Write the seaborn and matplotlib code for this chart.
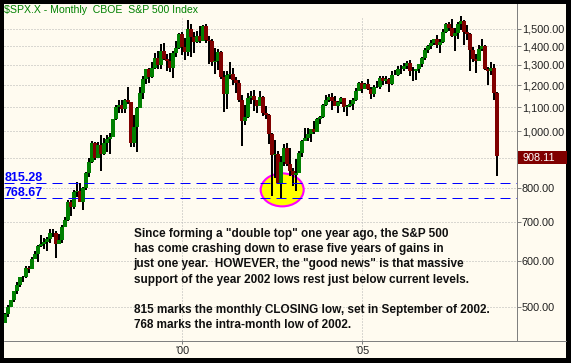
import numpy as np
import pandas as pd
import matplotlib
matplotlib.use('Agg')
import matplotlib.pyplot as plt
import matplotlib.transforms as mtransforms
from matplotlib.patches import Ellipse, Rectangle
from matplotlib.lines import Line2D
from matplotlib.ticker import FuncFormatter, NullLocator
import seaborn as sns

# monthly S&P 500 candles, Jan 1995 .. Oct 2008 (rounded)
opens = [459, 470, 487, 501, 515, 533, 545, 562, 562, 584, 582, 605,
         616, 636, 640, 646, 654, 669, 671, 640, 652, 687, 705, 757,
         741, 786, 791, 757, 801, 848, 885, 954, 899, 947, 915, 955,
         970, 980, 1049, 1102, 1112, 1091, 1134, 1121, 957, 1017, 1099, 1164,
         1229, 1280, 1238, 1286, 1335, 1302, 1373, 1329, 1320, 1283, 1363, 1389,
         1469, 1394, 1366, 1499, 1452, 1421, 1455, 1431, 1518, 1437, 1429, 1315,
         1320, 1366, 1240, 1160, 1249, 1256, 1224, 1211, 1134, 1041, 1060, 1139,
         1148, 1130, 1107, 1147, 1077, 1067, 990, 912, 916, 815, 886, 936,
         880, 856, 841, 848, 917, 964, 975, 990, 1008, 996, 1051, 1058,
         1112, 1131, 1145, 1126, 1107, 1121, 1141, 1102, 1104, 1115, 1130, 1174,
         1212, 1181, 1204, 1181, 1157, 1192, 1191, 1234, 1220, 1229, 1207, 1249,
         1248, 1280, 1281, 1295, 1311, 1270, 1270, 1277, 1304, 1336, 1378, 1401,
         1418, 1438, 1407, 1421, 1482, 1531, 1503, 1455, 1474, 1527, 1549, 1481,
         1468, 1379, 1331, 1323, 1386, 1400, 1280, 1267, 1283, 1166]
highs = [471, 489, 504, 515, 533, 551, 564, 566, 587, 587, 608, 623,
         639, 664, 657, 659, 681, 680, 676, 666, 691, 714, 762, 762,
         795, 818, 817, 804, 852, 899, 962, 960, 961, 986, 974, 986,
         993, 1051, 1110, 1133, 1131, 1138, 1191, 1122, 1066, 1103, 1193, 1245,
         1280, 1284, 1317, 1362, 1376, 1413, 1420, 1358, 1361, 1373, 1427, 1473,
         1478, 1445, 1553, 1527, 1482, 1489, 1517, 1525, 1530, 1455, 1438, 1389,
         1383, 1376, 1267, 1269, 1316, 1287, 1240, 1226, 1155, 1111, 1163, 1174,
         1177, 1131, 1174, 1148, 1107, 1071, 994, 965, 924, 907, 952, 954,
         935, 865, 896, 924, 965, 1015, 1015, 1011, 1040, 1054, 1064, 1113,
         1155, 1159, 1163, 1151, 1128, 1146, 1141, 1110, 1132, 1142, 1188, 1217,
         1218, 1212, 1229, 1192, 1200, 1220, 1245, 1246, 1243, 1233, 1271, 1276,
         1295, 1298, 1311, 1318, 1327, 1291, 1280, 1307, 1340, 1389, 1408, 1432,
         1442, 1462, 1439, 1498, 1536, 1541, 1556, 1504, 1539, 1576, 1553, 1524,
         1472, 1396, 1360, 1405, 1440, 1404, 1292, 1313, 1303, 1167]
lows = [457, 470, 481, 500, 511, 527, 542, 553, 561, 573, 580, 605,
        597, 634, 628, 624, 645, 658, 606, 640, 644, 685, 701, 717,
        737, 773, 756, 734, 793, 834, 882, 894, 899, 855, 910, 923,
        913, 980, 1047, 1077, 1074, 1075, 1114, 940, 940, 923, 1097, 1137,
        1205, 1212, 1234, 1281, 1281, 1278, 1325, 1269, 1263, 1234, 1342, 1387,
        1350, 1325, 1347, 1339, 1361, 1420, 1417, 1430, 1419, 1306, 1295, 1254,
        1275, 1228, 1081, 1092, 1232, 1203, 1166, 1125, 945, 1027, 1054, 1115,
        1082, 1074, 1106, 1063, 1049, 953, 776, 833, 815, 768.67, 873, 871,
        840, 806, 789, 848, 903, 963, 962, 961, 990, 996, 1031, 1053,
        1105, 1124, 1087, 1105, 1076, 1113, 1079, 1061, 1101, 1090, 1128, 1174,
        1164, 1181, 1177, 1136, 1146, 1188, 1184, 1201, 1205, 1168, 1201, 1247,
        1246, 1254, 1268, 1281, 1245, 1219, 1225, 1261, 1291, 1327, 1361, 1386,
        1404, 1389, 1364, 1416, 1477, 1484, 1454, 1371, 1439, 1490, 1406, 1436,
        1270, 1317, 1257, 1320, 1373, 1272, 1200, 1247, 1134, 840]
closes = [470, 487, 501, 515, 533, 545, 562, 562, 584, 582, 605, 616,
          636, 640, 646, 654, 669, 671, 640, 652, 687, 705, 757, 741,
          786, 791, 757, 801, 848, 885, 954, 899, 947, 915, 955, 970,
          980, 1049, 1102, 1112, 1091, 1134, 1121, 957, 1017, 1099, 1164, 1229,
          1280, 1238, 1286, 1335, 1302, 1373, 1329, 1320, 1283, 1363, 1389, 1469,
          1394, 1366, 1499, 1452, 1421, 1455, 1431, 1518, 1437, 1429, 1315, 1320,
          1366, 1240, 1160, 1249, 1256, 1224, 1211, 1134, 1041, 1060, 1139, 1148,
          1130, 1107, 1147, 1077, 1067, 990, 912, 916, 815.28, 886, 936, 880,
          856, 841, 848, 917, 964, 975, 990, 1008, 996, 1051, 1058, 1112,
          1131, 1145, 1126, 1107, 1121, 1141, 1102, 1104, 1115, 1130, 1174, 1212,
          1181, 1204, 1181, 1157, 1192, 1191, 1234, 1220, 1229, 1207, 1249, 1248,
          1280, 1281, 1295, 1311, 1270, 1270, 1277, 1304, 1336, 1378, 1401, 1418,
          1438, 1407, 1421, 1482, 1531, 1503, 1455, 1474, 1527, 1549, 1481, 1468,
          1379, 1331, 1323, 1386, 1400, 1280, 1267, 1283, 1166, 908.11]

support_levels = [815.28, 768.67]
support_labels = ['815.28', '768.67']
last_price = 908.11
y_ticks = [500, 600, 700, 800, 900, 1000, 1100, 1200, 1300, 1400, 1500]
y_labels_shown = [500, 600, 700, 800, 1000, 1100, 1200, 1300, 1400, 1500]
x_tick_dates = ['2000-01-01', '2005-01-01']
x_tick_labels = ["'00", "'05"]

title = '$SPX.X - Monthly  CBOE  S&P 500 Index'
note = ('Since forming a "double top" one year ago, the S&P 500\n'
        'has come crashing down to erase five years of gains in\n'
        'just one year.  HOWEVER, the "good news" is that massive\n'
        'support of the year 2002 lows rest just below current levels.\n'
        '\n'
        '815 marks the monthly CLOSING low, set in September of 2002.\n'
        '768 marks the intra-month low of 2002.')

CREAM = '#fffbf0'
GREEN = '#008000'
RED = '#800000'
GRID = '#b4b4b4'
AXIS = '#808080'

df = pd.DataFrame({'date': pd.date_range('1995-01-01', periods=len(closes), freq='MS'),
                   'open': opens, 'high': highs, 'low': lows, 'close': closes})
df['x'] = np.arange(len(df))
start = df['date'].iloc[0]
def month_index(d):
    d = pd.Timestamp(d)
    return (d.year - start.year) * 12 + d.month - start.month

sns.set_theme(style='white')
plt.rcParams['font.family'] = ['Liberation Sans', 'DejaVu Sans']

W, H = 571, 363
fig = plt.figure(figsize=(W / 100, H / 100), dpi=100, facecolor='black')
fig.patches.append(Rectangle((4 / W, 5 / H), 562 / W, 354 / H, transform=fig.transFigure,
                             facecolor=CREAM, edgecolor='none', zorder=-5))
ax = fig.add_axes([4 / W, 23 / H, 513 / W, 336 / H])
ax.set_facecolor(CREAM)
ax.set_yscale('log')

# dotted grid
for v in y_ticks:
    ax.axhline(v, color=GRID, lw=0.72, ls=(0, (1, 2)), zorder=1)
for d in x_tick_dates:
    ax.axvline(month_index(d), ymax=0.96, color=GRID, lw=0.72, ls=(0, (1, 2)), zorder=1)

# yellow circle round the 2002 lows
blend = mtransforms.blended_transform_factory(ax.transAxes, ax.transData)
circ_tr = fig.dpi_scale_trans + mtransforms.ScaledTranslation(93.3, 794, ax.transData)
ax.add_patch(Ellipse((0, 0), 0.43, 0.33, transform=circ_tr, facecolor='#ffff00',
                     edgecolor='#ff00ff', lw=1.5, zorder=2))

# candles
for row in df.itertuples():
    col = GREEN if row.close >= row.open else RED
    ax.vlines(row.x, row.low, row.high, color='black', lw=1.44, zorder=3)
    ax.bar(row.x, abs(row.close - row.open), bottom=min(row.open, row.close),
           width=1.4, color=col, lw=0, zorder=3)

for v, lab in zip(support_levels, support_labels):
    ax.axhline(v, color='#0000ff', lw=0.72, ls=(0, (10, 6)), zorder=5)
    ax.annotate(lab, xy=(0, v), xycoords=blend, xytext=(0.2, 1.7), textcoords='offset points',
                ha='left', va='baseline', color='#0000ff', fontsize=9, fontweight='bold')

ax.set_xlim(0.567, 171.57)
ax.set_ylim(439.0, 1653.6)

ax.yaxis.tick_right()
ax.set_yticks(y_ticks)
ax.yaxis.set_minor_locator(NullLocator())
ax.yaxis.set_major_formatter(FuncFormatter(lambda v, p: f'{v:,.2f}' if v in y_labels_shown else ''))
ax.set_xticks([month_index(d) for d in x_tick_dates])
ax.set_xticklabels(x_tick_labels)
ax.xaxis.set_minor_locator(NullLocator())
ax.tick_params(axis='both', which='major', length=3, width=0.72, color=AXIS,
               labelsize=7.8, labelcolor='#202020')
ax.tick_params(axis='y', pad=0.6)
ax.tick_params(axis='x', pad=1.5, bottom=True)
for s in ['left', 'top', 'bottom']:
    ax.spines[s].set_visible(False)
ax.spines['right'].set_color(AXIS)
ax.spines['right'].set_linewidth(0.72)
ax.grid(False)
fig.add_artist(Line2D([4 / W, 566 / W], [22.5 / H, 22.5 / H], color=AXIS, lw=0.72))

# last price box
box_tr = fig.dpi_scale_trans + mtransforms.ScaledTranslation(1, last_price, blend)
ax.add_patch(Rectangle((0.013, -0.085), 0.49, 0.133, transform=box_tr, facecolor=RED,
                       edgecolor='none', clip_on=False, zorder=6))
ax.annotate(f'{last_price:.2f}', xy=(1, last_price), xycoords=blend, xytext=(4.1, -1.4),
            textcoords='offset points', ha='left', va='center', color='white', fontsize=7.8,
            annotation_clip=False, zorder=7)

fig.text(4 / W, 1 - 13.3 / H, title, color=GREEN, fontsize=7.55, va='baseline', ha='left')
fig.text(133.5 / W, 1 - 228 / H, note, color='#101010', fontsize=8.45, fontweight='bold',
         va='top', ha='left', linespacing=1.36)

fig.savefig('out.png', dpi=100, facecolor='black')
